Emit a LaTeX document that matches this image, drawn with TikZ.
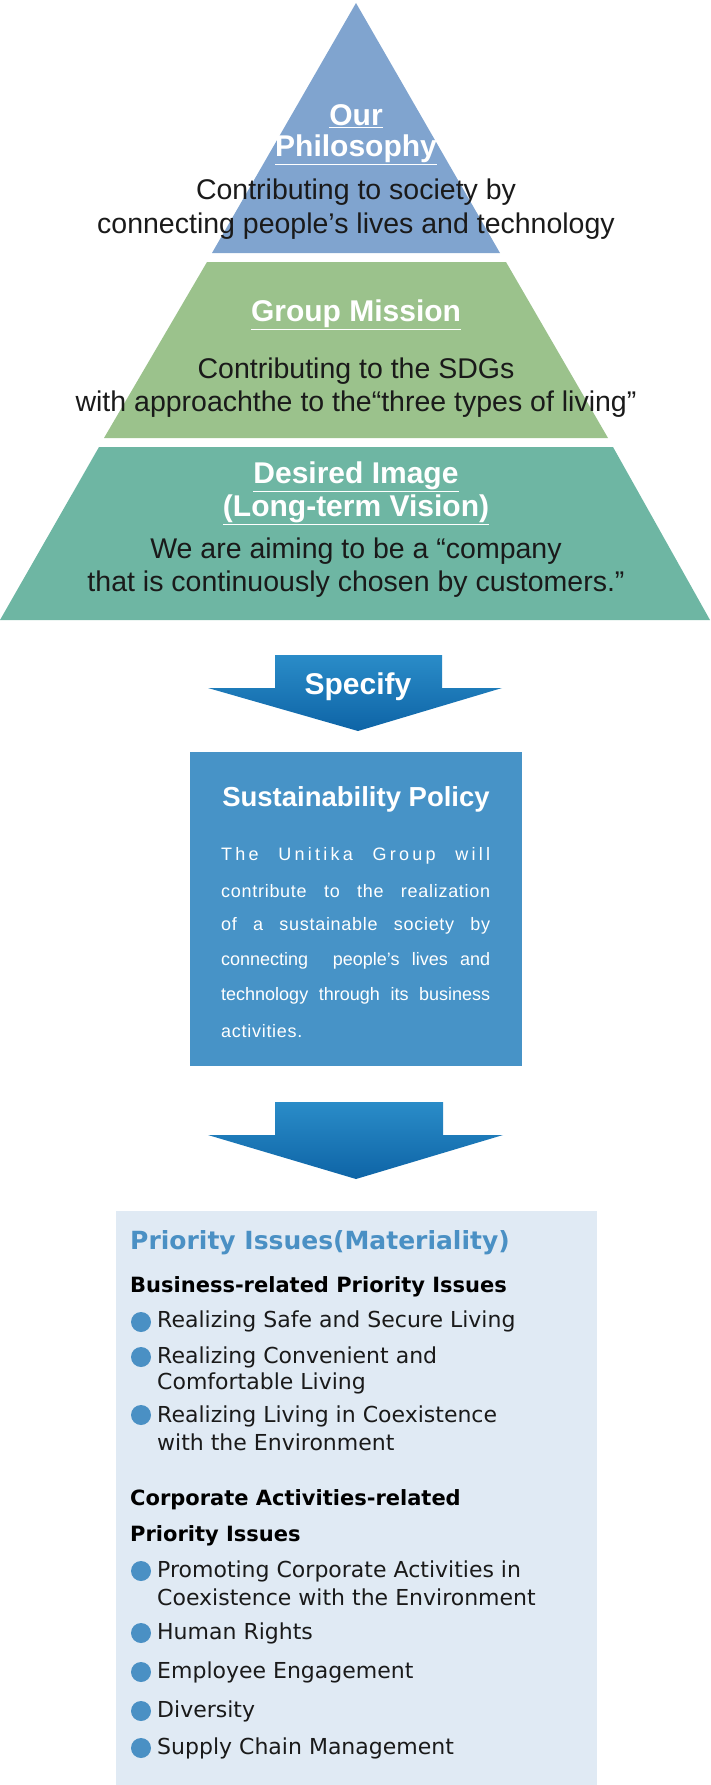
\documentclass[tikz,border=0pt]{standalone}
\usepackage{fontspec}
\setmainfont{Liberation Sans}
\newfontfamily\itemfont{DejaVu Sans}
\definecolor{ctop}{HTML}{80A4CF}
\definecolor{cmid}{HTML}{9BC28C}
\definecolor{cbot}{HTML}{6EB6A3}
\definecolor{cpol}{HTML}{4793C7}
\definecolor{cpri}{HTML}{E0EAF4}
\definecolor{cblue}{HTML}{4A90C4}
\definecolor{ctxt}{HTML}{1A1A1A}
\begin{document}
\begin{tikzpicture}[x=1pt,y=-1pt,
  head/.style={font=\fontsize{30}{34}\selectfont\bfseries, text=white},
  body/.style={font=\fontsize{28.5}{32}\selectfont, text=ctxt},
  arr/.style={top color=arrtop, bottom color=arrbot, draw=none},
  pl/.style={font=\fontsize{18}{20}\selectfont, text=white, anchor=west, inner sep=0},
  it/.style={font=\itemfont\fontsize{22}{26}\selectfont, text=ctxt, anchor=west, inner sep=0},
  sub/.style={font=\itemfont\bfseries\fontsize{21}{24}\selectfont, text=black, anchor=west, inner sep=0},
  dot/.style={circle, fill=cblue, minimum size=20pt, inner sep=0}]
\definecolor{arrtop}{HTML}{2A8CC8}
\definecolor{arrbot}{HTML}{0E64A6}
\useasboundingbox (0,0) rectangle (710,1785);
% pyramid
\fill[ctop] (356,3) -- (212,253) -- (500,253) -- cycle;
\fill[cmid] (207,262) -- (506,262) -- (608,438) -- (104,438) -- cycle;
\fill[cbot] (99,447) -- (613,447) -- (710,620) -- (0,620) -- cycle;
\node[head] (h1) at (356,116) {\underline{Our}};
\node[head] (h1b) at (356,150) {\underline{Philosophy}};
\node[body] (t1a) at (356,192) {Contributing to society by};
\node[body] (t1b) at (356,226) {connecting people’s lives and technology};
\node[head] (h2) at (356,315) {\underline{Group Mission}};
\node[body] (t2a) at (356,371) {Contributing to the SDGs};
\node[body] (t2b) at (356,404) {with approachthe to the“three types of living”};
\node[head] (h3) at (356,477) {\underline{Desired Image}};
\node[head] (h3b) at (356,510) {\underline{(Long-term Vision)}};
\node[body] (t3a) at (356,551) {We are aiming to be a “company};
\node[body] (t3b) at (356,584) {that is continuously chosen by customers.”};
% arrow 1
\path[arr] (275,655) -- (442,655) -- (442,688) -- (502,688) -- (358,731) -- (208,688) -- (275,688) -- cycle;
\node[font=\fontsize{30}{34}\selectfont\bfseries, text=white] (spec) at (358,687) {Specify};
% policy
\node[fill=cpol, minimum width=332pt, minimum height=314pt, inner sep=0] (pol) at (356,909) {};
\node[font=\fontsize{27.5}{30}\selectfont\bfseries, text=white] (polt) at (356,799) {Sustainability Policy};
\node[pl] (p1) at (221,856) {\addfontfeature{LetterSpace=18}\makebox[269pt][s]{The Unitika Group will}};
\node[pl] (p2) at (221,891) {\addfontfeature{LetterSpace=4}\makebox[269pt][s]{contribute to the realization}};
\node[pl] (p3) at (221,926) {\addfontfeature{LetterSpace=4}\makebox[269pt][s]{of a sustainable society by}};
\node[pl] (p4) at (221,961) {\makebox[269pt][s]{connecting\ \ people’s lives and}};
\node[pl] (p5) at (221,996) {\makebox[269pt][s]{technology through its business}};
\node[pl] (p6) at (221,1031) {\addfontfeature{LetterSpace=4}activities.};
% arrow 2
\path[arr] (275,1102) -- (443,1102) -- (443,1135) -- (503,1135) -- (356,1179) -- (208,1135) -- (275,1135) -- cycle;
% priority
\fill[cpri] (116,1211) rectangle (597,1785);
\node[font=\itemfont\bfseries\fontsize{25}{28}\selectfont, text=cblue, anchor=west, inner sep=0] (pt) at (130,1243) {Priority Issues(Materiality)};
\node[sub] (s1) at (130,1287) {Business-related Priority Issues};
\node[dot] (d1) at (141,1322) {}; \node[it] (i1) at (157,1321) {Realizing Safe and Secure Living};
\node[dot] (d2) at (141,1357) {}; \node[it] (i2) at (157,1357) {Realizing Convenient and};
\node[it] (i2b) at (157,1383) {Comfortable Living};
\node[dot] (d3) at (141,1415) {}; \node[it] (i3) at (157,1416) {Realizing Living in Coexistence};
\node[it] (i3b) at (157,1442) {with the Environment};
\node[sub] (s2) at (130,1500) {Corporate Activities-related};
\node[sub] (s2b) at (130,1536) {Priority Issues};
\node[dot] (d4) at (141,1571) {}; \node[it] (i4) at (157,1571) {Promoting Corporate Activities in};
\node[it] (i4b) at (157,1597) {Coexistence with the Environment};
\node[dot] (d5) at (141,1633) {}; \node[it] (i5) at (157,1633) {Human Rights};
\node[dot] (d6) at (141,1672) {}; \node[it] (i6) at (157,1672) {Employee Engagement};
\node[dot] (d7) at (141,1711) {}; \node[it] (i7) at (157,1711) {Diversity};
\node[dot] (d8) at (141,1748) {}; \node[it] (i8) at (157,1748) {Supply Chain Management};
\end{tikzpicture}
\end{document}
